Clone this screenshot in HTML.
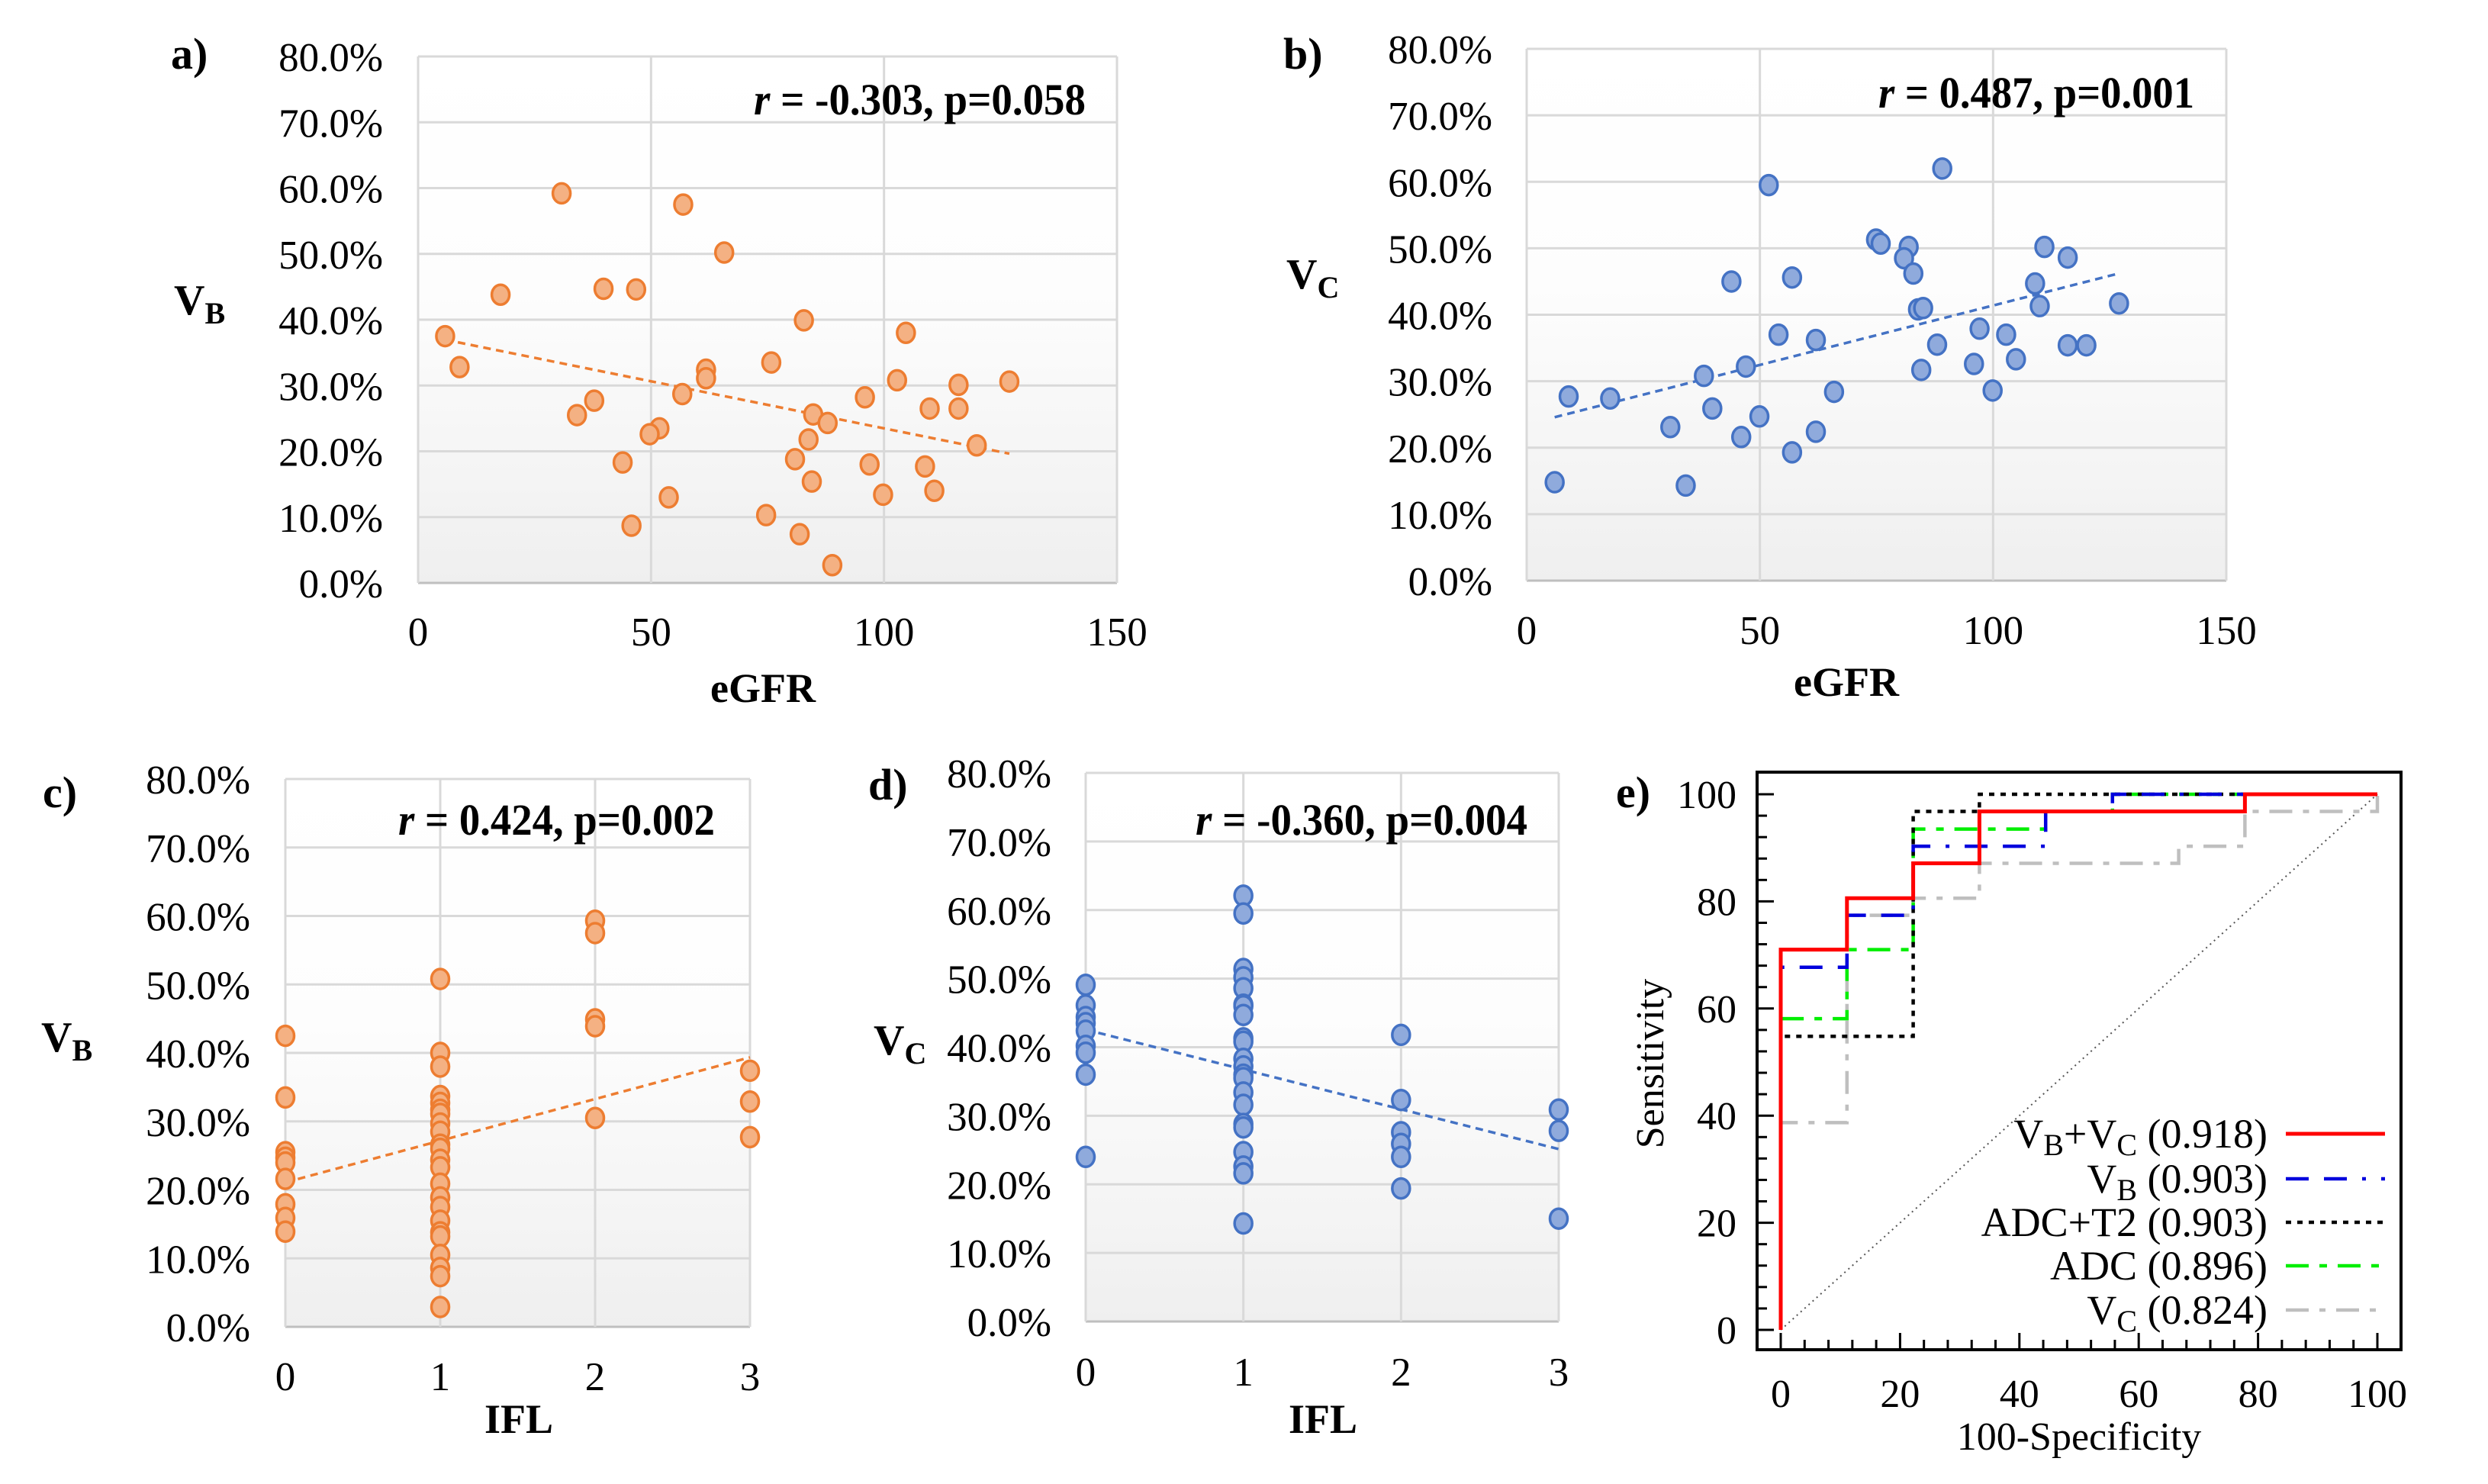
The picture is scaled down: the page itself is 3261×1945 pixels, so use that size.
<!DOCTYPE html>
<html><head><meta charset="utf-8"><style>
html,body{margin:0;padding:0;background:#fff}
svg{display:block}
text{font-family:"Liberation Serif",serif;fill:#000}
</style></head><body>
<svg id="fig" xmlns="http://www.w3.org/2000/svg" width="3261" height="1945" viewBox="0 0 3261 1945">
<defs>
<linearGradient id="bg" x1="0" y1="0" x2="0" y2="1">
<stop offset="0" stop-color="#ffffff"/><stop offset="0.45" stop-color="#fdfdfd"/><stop offset="1" stop-color="#efefef"/>
</linearGradient>
</defs>
<g id="root"></g>
</svg>
<script>
// ---------- data ----------
const aX=[30.8,56.9,65.7,17.7,39.8,46.8,82.8,5.8,104.7,8.9,75.8,61.8,61.8,102.8,116.0,126.9,56.7,37.8,95.9,34.1,109.8,116.0,84.8,51.8,49.7,87.9,83.8,119.9,43.9,80.9,96.9,108.8,84.5,53.8,99.8,110.8,74.7,45.8,81.9,88.9];
const aY=[59.2,57.5,50.2,43.8,44.7,44.6,39.9,37.5,38.0,32.8,33.5,32.4,31.1,30.8,30.1,30.6,28.7,27.7,28.2,25.5,26.5,26.5,25.6,23.5,22.6,24.3,21.8,20.9,18.3,18.8,18.0,17.7,15.4,13.0,13.4,14.0,10.3,8.7,7.4,2.7];
const bX=[6.0,34.1,9.0,17.9,30.8,39.8,38.0,43.9,46.0,47.0,49.9,51.9,54.0,56.9,56.9,62.0,62.0,65.9,74.9,75.9,81.9,80.9,82.9,83.9,85.0,84.6,88.0,89.1,95.9,97.1,99.9,102.8,104.9,109.0,110.0,111.0,116.0,116.0,120.0,127.0];
const bY=[14.8,14.3,27.7,27.4,23.1,25.9,30.8,45.0,21.6,32.2,24.7,59.5,37.0,45.6,19.3,36.2,22.4,28.4,51.3,50.7,50.2,48.5,46.2,40.8,41.0,31.7,35.5,62.0,32.6,37.9,28.6,37.0,33.3,44.7,41.3,50.2,48.6,35.4,35.4,41.7];
const cX=[0,0,0,0,0,0,0,0,0, 1,1,1,1,1,1,1,1,1,1,1,1,1,1,1,1,1,1,1,1,1,1,1, 2,2,2,2,2, 3,3,3];
const cY=[42.5,33.5,25.5,24.7,24.0,21.6,17.9,15.9,13.9, 50.8,40.0,38.0,33.7,32.7,31.7,31.1,29.7,28.5,26.6,26.0,24.4,23.3,20.9,18.9,17.5,15.5,13.8,13.2,10.5,8.6,7.4,2.9, 59.3,57.5,44.9,43.9,30.5, 37.4,32.9,27.7];
const dX=[0,0,0,0,0,0,0,0,0, 1,1,1,1,1,1,1,1,1,1,1,1,1,1,1,1,1,1,1,1,1,1, 2,2,2,2,2,2, 3,3,3];
const dY=[49.1,46.1,44.4,43.5,42.4,40.2,39.2,36.0,24.0, 62.1,59.5,51.4,50.2,48.6,46.2,46.0,44.7,41.3,40.8,38.3,37.2,36.0,35.5,33.4,31.6,28.8,28.3,24.7,22.6,21.6,14.3, 41.8,32.3,27.6,25.9,24.0,19.4, 30.9,27.8,15.0];
const pctTicks=["0.0%","10.0%","20.0%","30.0%","40.0%","50.0%","60.0%","70.0%","80.0%"];
const egfrTicks=[0,50,100,150];
const iflTicks=[0,1,2,3];
const stats=["-0.303, p=0.058","0.487, p=0.001","0.424, p=0.002","-0.360, p=0.004"];
// ROC
const rocRedX=[0,0,11.1,11.1,22.2,22.2,33.3,33.3,77.8,77.8,100];
const rocRedY=[0,71.0,71.0,80.6,80.6,87.1,87.1,96.8,96.8,100,100];
const rocBlueX=[0,0,11.1,11.1,22.2,22.2,44.4,44.4,55.6,55.6,100];
const rocBlueY=[0,67.7,67.7,77.4,77.4,90.3,90.3,96.8,96.8,100,100];
const rocBlackX=[0,0,22.2,22.2,33.3,33.3,100];
const rocBlackY=[0,54.8,54.8,96.8,96.8,100,100];
const rocGreenX=[0,0,11.1,11.1,22.2,22.2,44.4,44.4,55.6,55.6,100];
const rocGreenY=[0,58.1,58.1,71.0,71.0,93.5,93.5,96.8,96.8,100,100];
const rocGrayX=[0,0,11.1,11.1,22.2,22.2,33.3,33.3,66.7,66.7,77.8,77.8,100,100];
const rocGrayY=[0,38.7,38.7,77.4,77.4,80.6,80.6,87.1,87.1,90.3,90.3,96.8,96.8,100];
const rocTicks=[0,20,40,60,80,100];
const legendAUC=["0.918","0.903","0.903","0.896","0.824"];

// ---------- helpers ----------
const NS="http://www.w3.org/2000/svg";
const root=document.getElementById('root');
function el(tag,attrs,parent){const e=document.createElementNS(NS,tag);for(const k in attrs)e.setAttribute(k,attrs[k]);(parent||root).appendChild(e);return e;}
function txt(s,attrs,parent){const t=el('text',attrs,parent);t.textContent=s;return t;}
function regress(xs,ys){const n=xs.length;let sx=0,sy=0,sxx=0,sxy=0;for(let i=0;i<n;i++){sx+=xs[i];sy+=ys[i];sxx+=xs[i]*xs[i];sxy+=xs[i]*ys[i];}const m=(n*sxy-sx*sy)/(n*sxx-sx*sx);return [m,(sy-m*sx)/n];}

function scatter(o){
  const g=el('g',{});
  
  
  const X=v=>o.L+(v-o.xmin)/(o.xmax-o.xmin)*(o.R-o.L);
  const Y=v=>o.B-v/80*(o.B-o.T);
  const bgr=el('rect',{x:o.L,y:o.T,width:o.R-o.L,height:o.B-o.T,fill:'url(#bg)'},g);
  
  
  for(let i=0;i<pctTicks.length;i++){
    const y=Y(i*10);
    const gl=el('line',{x1:o.L,x2:o.R,y1:y,y2:y,stroke:i==0?'#bfbfbf':'#d9d9d9','stroke-width':3},g);
    
    
    const t=txt(pctTicks[i],{x:o.ylx,y:y+19,'font-size':53,'text-anchor':'end'},g);
    
    
  }
  o.xticks.forEach(v=>{
    const x=X(v);
    const gl=el('line',{x1:x,x2:x,y1:o.T,y2:o.B,stroke:'#d9d9d9','stroke-width':3},g);
    
    
    const t=txt(String(v),{x:x,y:o.xly,'font-size':53,'text-anchor':'middle'},g);
    
    
  });
  const [m,b]=regress(o.xs,o.ys);
  const x0=Math.min(...o.xs),x1=Math.max(...o.xs);
  const tl=el('line',{x1:X(x0),y1:Y(m*x0+b),x2:X(x1),y2:Y(m*x1+b),stroke:o.stroke,'stroke-width':3.5,'stroke-dasharray':'10 7'},g);
  
  
  for(let i=0;i<o.xs.length;i++){
    const c=el('ellipse',{cx:X(o.xs[i]),cy:Y(o.ys[i]),rx:11.5,ry:13,fill:o.fill,stroke:o.stroke,'stroke-width':3.5},g);
    
    
  }
  const st=el('text',{x:o.sx,y:o.sy,'font-size':58,'font-weight':'bold',textLength:o.sw,lengthAdjust:'spacingAndGlyphs'},g);
  
  
  const it=el('tspan',{'font-style':'italic'},st); it.textContent='r';
  const rest=el('tspan',{},st); rest.textContent=' = '+o.stat;
  const pl=txt(o.panel,{x:o.px,y:o.py,'font-size':58,'font-weight':'bold'},g);
  
  
  const yt=el('text',{x:o.vx,y:o.vy,'font-size':56,'font-weight':'bold'},g);
  
  
  const v1=el('tspan',{},yt); v1.textContent='V';
  const v2=el('tspan',{dy:12,'font-size':40},yt); v2.textContent=o.sub;
  const xt=txt(o.xtitle,{x:o.xtx,y:o.xty,'font-size':54,'font-weight':'bold','text-anchor':'middle'},g);
  
  
}

const OR={fill:'#F4B183',stroke:'#ED7D31'}, BL={fill:'#8FAADC',stroke:'#4472C4'};
scatter(Object.assign({name:'panel-a-vb-vs-egfr',L:548,R:1464,T:74,B:764,xmin:0,xmax:150,xticks:egfrTicks,xs:aX,ys:aY,stat:stats[0],
 ylx:502,xly:846,sx:988,sw:435,sy:150,panel:'a)',px:224,py:90,vx:228,vy:412,sub:'B',xtitle:'eGFR',xtx:1000,xty:920},OR));
scatter(Object.assign({name:'panel-b-vc-vs-egfr',L:2001,R:2918,T:64,B:761,xmin:0,xmax:150,xticks:egfrTicks,xs:bX,ys:bY,stat:stats[1],
 ylx:1956,xly:844,sx:2462,sw:414,sy:141,panel:'b)',px:1682,py:90,vx:1686,vy:378,sub:'C',xtitle:'eGFR',xtx:2420,xty:912},BL));
scatter(Object.assign({name:'panel-c-vb-vs-ifl',L:374,R:983,T:1021,B:1739,xmin:0,xmax:3,xticks:iflTicks,xs:cX,ys:cY,stat:stats[2],
 ylx:328,xly:1822,sx:522,sw:415,sy:1094,panel:'c)',px:56,py:1058,vx:54,vy:1378,sub:'B',xtitle:'IFL',xtx:680,xty:1878},OR));
scatter(Object.assign({name:'panel-d-vc-vs-ifl',L:1423,R:2043,T:1013,B:1732,xmin:0,xmax:3,xticks:iflTicks,xs:dX,ys:dY,stat:stats[3],
 ylx:1378,xly:1816,sx:1567,sw:435,sy:1094,panel:'d)',px:1138,py:1048,vx:1145,vy:1382,sub:'C',xtitle:'IFL',xtx:1734,xty:1878},BL));

// ---------- ROC panel ----------
(function(){
  const g=el('g',{});
  
  
  const x0=2334,x1=3116,y0=1743,y1=1041;
  const X=v=>x0+v/100*(x1-x0), Y=v=>y0-v/100*(y0-y1);
  const fr=el('rect',{x:2303,y:1012,width:844,height:757,fill:'#fff',stroke:'#000','stroke-width':4},g);
  
  
  for(let v=0;v<=100;v+=4){
    const maj=v%20==0;
    const tx=el('line',{x1:X(v),x2:X(v),y1:1769,y2:1769-(maj?22:13),stroke:'#000','stroke-width':3},g);
    
    
    const ty=el('line',{x1:2303,x2:2303+(maj?22:13),y1:Y(v),y2:Y(v),stroke:'#000','stroke-width':3},g);
    
    
  }
  rocTicks.forEach(v=>{
    const a=txt(String(v),{x:X(v),y:1844,'font-size':52,'text-anchor':'middle'},g);
    
    
    const b=txt(String(v),{x:2276,y:Y(v)+18,'font-size':52,'text-anchor':'end'},g);
    
    
  });
  const dg=el('line',{x1:X(0),y1:Y(0),x2:X(100),y2:Y(100),stroke:'#555','stroke-width':2,'stroke-dasharray':'2 5'},g);
  
  
  const series=[
    {xs:rocGrayX,ys:rocGrayY,c:'#bfbfbf',d:'30 14 8 14',w:4.5,n:'roc-vc'},
    {xs:rocGreenX,ys:rocGreenY,c:'#00ee00',d:'30 14 10 14',w:4.5,n:'roc-adc'},
    {xs:rocBlackX,ys:rocBlackY,c:'#000',d:'7 8',w:4.5,n:'roc-adc-t2'},
    {xs:rocBlueX,ys:rocBlueY,c:'#0000dd',d:'30 20 30 20 5 20',w:4.5,n:'roc-vb'},
    {xs:rocRedX,ys:rocRedY,c:'#ff0000',d:'none',w:5,n:'roc-vb-vc'}];
  series.forEach(s=>{
    const p=s.xs.map((v,i)=>(i?'L':'M')+X(v)+' '+Y(s.ys[i])).join(' ');
    const pa=el('path',{d:p,fill:'none',stroke:s.c,'stroke-width':s.w,'stroke-dasharray':s.d},g);
    
    
  });
  // legend
  const names=[['V','B','+V','C'],['V','B'],['ADC+T2'],['ADC'],['V','C']];
  const ly=[1486,1545,1602,1659,1717];
  const order=[4,3,2,1,0];
  for(let i=0;i<5;i++){
    const s=series[order[i]];
    const t=el('text',{x:2972,y:ly[i]+18,'font-size':54,'text-anchor':'end'},g);
    
    
    const parts=names[i];
    for(let k=0;k<parts.length;k++){
      const sp=el('tspan',k%2==1?{dy:10,'font-size':40}:(k>0?{dy:-10}:{}),t);
      sp.textContent=parts[k];
    }
    const tail=el('tspan',parts.length%2==0?{dy:-10}:{},t); tail.textContent=' ('+legendAUC[i]+')';
    const ln=el('line',{x1:2996,x2:3126,y1:ly[i],y2:ly[i],stroke:s.c,'stroke-width':s.w,'stroke-dasharray':s.d},g);
    
    
  }
  const pl=txt('e)',{x:2118,y:1058,'font-size':58,'font-weight':'bold'},g);
  
  
  const xt=txt('100-Specificity',{x:2725,y:1900,'font-size':52,'text-anchor':'middle'},g);
  
  
  const yt=txt('Sensitivity',{x:0,y:0,'font-size':52,'text-anchor':'middle',transform:'translate(2180 1394) rotate(-90)'},g);
  
  
})();
</script>
</body></html>
